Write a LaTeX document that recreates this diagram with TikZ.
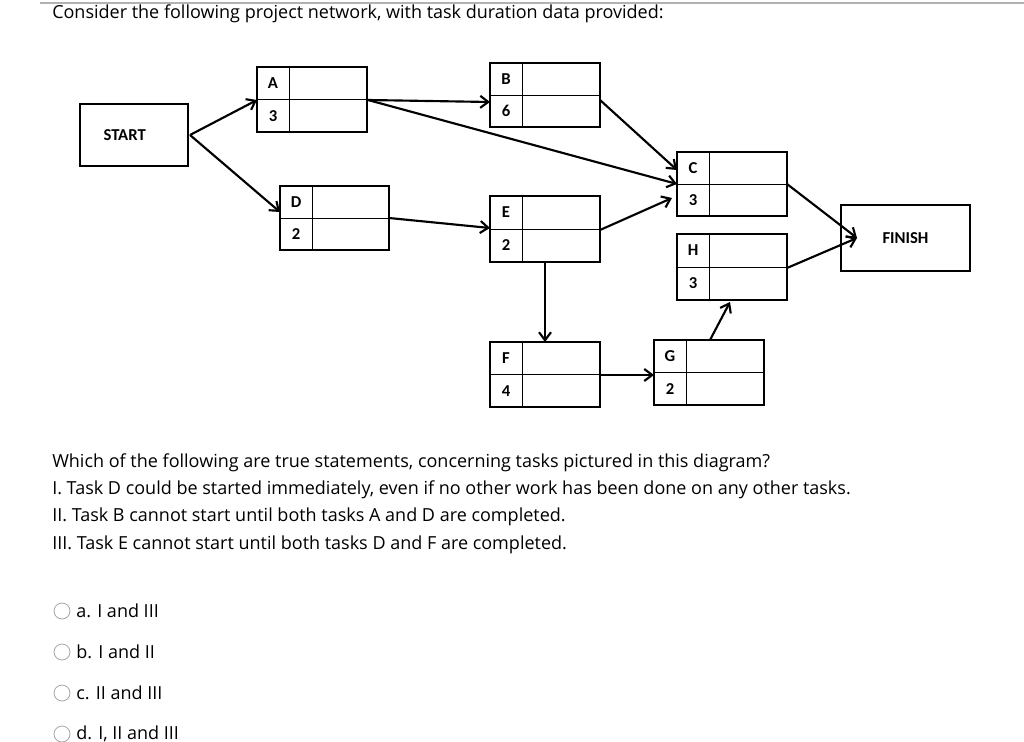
\documentclass[tikz,border=0pt]{standalone}
\usepackage{fontspec}
\setmainfont{Open Sans}
\newfontfamily\carlitofont{Carlito}
\usetikzlibrary{arrows.meta}
\begin{document}
\begin{tikzpicture}[x=0.75pt,y=-0.75pt,
  edge/.style={line width=1.6pt,-{Straight Barb[length=6pt,width=9pt]}},
  lbl/.style={font=\carlitofont\bfseries\fontsize{12.5}{14}\selectfont},
  txt/.style={anchor=west,font=\fontsize{13.5}{16}\selectfont,inner sep=0pt},
  opt/.style={circle,draw=gray!70,line width=0.6pt,minimum size=12pt,inner sep=0pt}]
\useasboundingbox (0,0) rectangle (1024,742);
\draw[gray!60,line width=0.8pt] (40,3) -- (1024,3);
\newcommand\task[7]{% name x1 y1 x2 y2 letter dur
  \draw[line width=1.6pt] (#2,#3) rectangle (#4,#5);
  \draw[line width=0.6pt] ({#2+32},#3) -- ({#2+32},#5) (#2,{(#3+#5)/2}) -- (#4,{(#3+#5)/2});
  \node[lbl] (#1l) at ({#2+16},{(3*#3+#5)/4}) {#6};
  \node[lbl] (#1d) at ({#2+16},{(#3+3*#5)/4}) {#7};
  \coordinate (#1) at ({(#2+#4)/2},{(#3+#5)/2});}
\task{A}{257}{67}{367}{132}{A}{3}
\task{B}{490}{63}{600}{127}{B}{6}
\task{D}{280}{186}{389}{250}{D}{2}
\task{E}{490}{196}{600}{262}{E}{2}
\task{C}{677}{152}{787}{216}{C}{3}
\task{H}{677}{234}{787}{300}{H}{3}
\task{F}{490}{342}{600}{407}{F}{4}
\task{G}{654}{340}{764}{405}{G}{2}
\node[draw,line width=1.6pt,minimum width=81pt,minimum height=46pt,lbl] (S) at (134,135) {\hspace*{-14pt}START};
\node[draw,line width=1.6pt,minimum width=97pt,minimum height=49pt,lbl] (Fi) at (905.5,238) {FINISH};
\coordinate (s1) at (190,135);
\coordinate (al) at (257,100); \coordinate (ar) at (368,100);
\coordinate (bl) at (490,102); \coordinate (br) at (600,100);
\coordinate (dl) at (280,212); \coordinate (dr) at (389,218);
\coordinate (el) at (490,228); \coordinate (er) at (600,230); \coordinate (eb) at (545,262);
\coordinate (ct) at (677,170); \coordinate (cm) at (677,184); \coordinate (cb) at (672,198); \coordinate (cr) at (787,184);
\coordinate (hb) at (730,302); \coordinate (hr) at (787,268);
\coordinate (ft) at (545,342); \coordinate (fr) at (600,375);
\coordinate (gl) at (654,375); \coordinate (gt) at (710,340);
\coordinate (fil) at (857,238);
\draw[edge] (s1) -- (al);
\draw[edge] (s1) -- (dl);
\draw[edge] (ar) -- (bl);
\draw[edge] (ar) -- (cm);
\draw[edge] (br) -- (ct);
\draw[edge] (dr) -- (el);
\draw[edge] (er) -- (cb);
\draw[edge] (eb) -- (ft);
\draw[edge] (fr) -- (gl);
\draw[edge] (gt) -- (hb);
\draw[edge] (cr) -- (fil);
\draw[edge] (hr) -- (fil);
\node[txt] (t0) at (52,14) {Consider the following project network, with task duration data provided:};
\node[txt] (q0) at (52,463) {Which of the following are true statements, concerning tasks pictured in this diagram?};
\node[txt] (q1) at (52,490) {I. Task D could be started immediately, even if no other work has been done on any other tasks.};
\node[txt] (q2) at (52,517) {II. Task B cannot start until both tasks A and D are completed.};
\node[txt] (q3) at (52,545) {III. Task E cannot start until both tasks D and F are completed.};
\foreach \y/\t [count=\i] in {611/a. I and III,652/b. I and II,693/c. II and III,734/{d. I, II and III}}{
  \node[opt] (o\i) at (62,\y) {};
  \node[txt] (ot\i) at (76,\y) {\t};}
\end{tikzpicture}
\end{document}
